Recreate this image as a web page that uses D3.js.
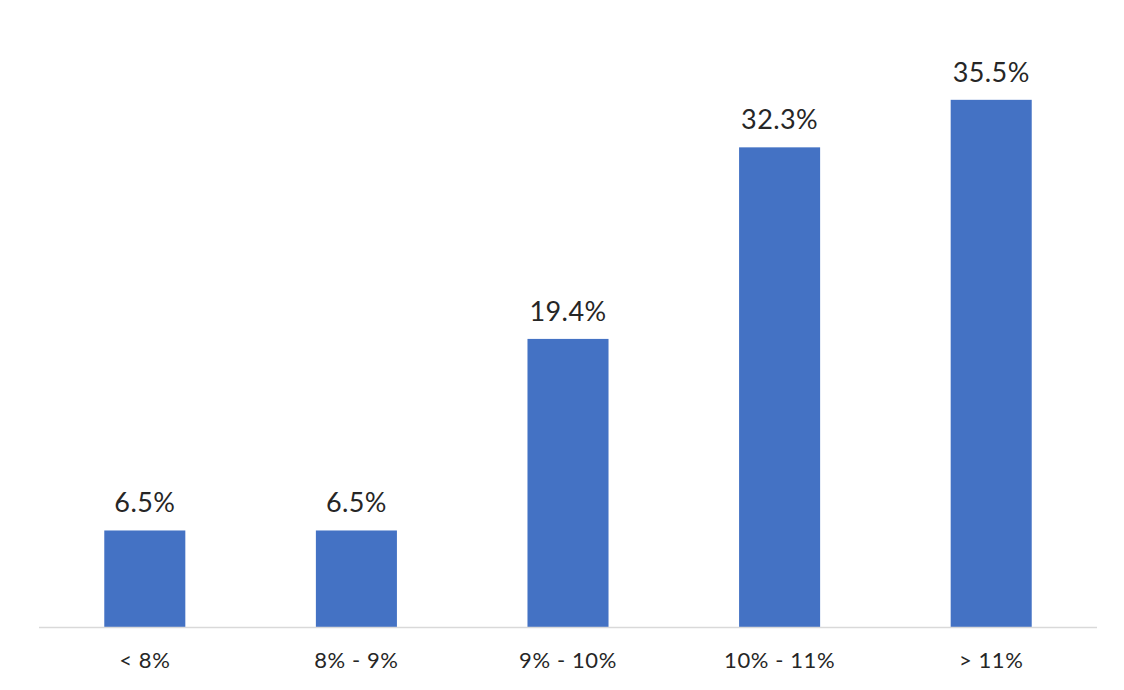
<!DOCTYPE html>
<html>
<head>
<meta charset="utf-8">
<script src="https://cdn.jsdelivr.net/npm/d3@7"></script>
<style>
  body { margin: 0; background: #fff; }
  text { font-family: Lato, "Open Sans", sans-serif; fill: #262626; }
</style>
</head>
<body>
<div id="container"></div>
<script>
var categories = ['< 8%', '8% - 9%', '9% - 10%', '10% - 11%', '> 11%'];
var values = [6.5, 6.5, 19.4, 32.3, 35.5];
var valueLabels = ['6.5%', '6.5%', '19.4%', '32.3%', '35.5%'];

var svgWidth = 1124,
    svgHeight = 690,
    left = 39,
    right = 1097,
    baseY = 627;

var svg = d3.select('#container')
    .append('svg')
    .attr('width', svgWidth)
    .attr('height', svgHeight);

var scaleX = d3.scaleBand()
    .domain(categories)
    .range([left, right])
    .paddingInner(0.617)
    .paddingOuter(0.3085);

var scaleY = d3.scaleLinear()
    .domain([0, 40])
    .range([baseY, baseY - 14.85 * 40]);

var bar = svg.selectAll('g.bar')
    .data(values)
    .enter()
    .append('g')
    .attr('class', 'bar');

bar.append('rect')
    .attr('x', function(d, i) { return scaleX(categories[i]); })
    .attr('y', function(d) { return scaleY(d); })
    .attr('width', scaleX.bandwidth())
    .attr('height', function(d) { return baseY - scaleY(d); })
    .style('fill', '#4472c4');

bar.append('text')
    .text(function(d, i) { return valueLabels[i]; })
    .attr('x', function(d, i) { return scaleX(categories[i]) + scaleX.bandwidth() / 2; })
    .attr('y', function(d) { return scaleY(d) - 18; })
    .attr('text-anchor', 'middle')
    .style('font-size', '27px')
    .style('letter-spacing', '0.4px');

svg.append('line')
    .attr('x1', left)
    .attr('x2', right)
    .attr('y1', baseY + 0.5)
    .attr('y2', baseY + 0.5)
    .style('stroke', '#d9d9d9')
    .style('stroke-width', 1.5);

svg.selectAll('text.cat')
    .data(categories)
    .enter()
    .append('text')
    .attr('class', 'cat')
    .text(function(d) { return d; })
    .attr('x', function(d) { return scaleX(d) + scaleX.bandwidth() / 2; })
    .attr('y', 668)
    .attr('text-anchor', 'middle')
    .style('font-size', '22px')
    .style('letter-spacing', '0.6px');
</script>
</body>
</html>
